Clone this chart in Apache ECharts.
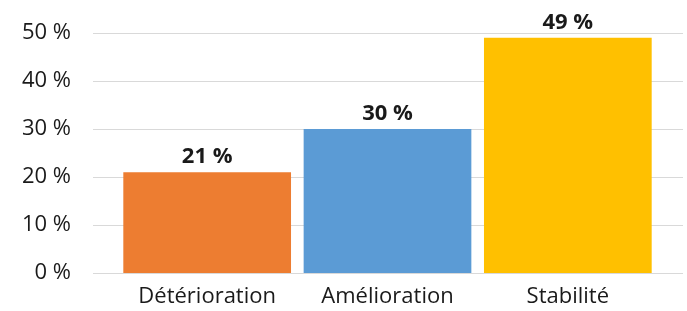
<!DOCTYPE html>
<html>
<head>
<meta charset="utf-8">
<script src="https://cdn.jsdelivr.net/npm/echarts@6/dist/echarts.min.js"></script>
<style>
  html, body { margin: 0; padding: 0; background: #fff; }
  #chart { width: 687px; height: 311px; }
</style>
</head>
<body>
<div id="chart"></div>
<script>
// données
const categories = ['Détérioration', 'Amélioration', 'Stabilité'];
const values = [21, 30, 49];
const barColors = ['#ED7D31', '#5B9BD5', '#FFC000'];
const yTicks = [0, 10, 20, 30, 40, 50];

const font = '"Open Sans", "DejaVu Sans", sans-serif';
const chart = echarts.init(document.getElementById('chart'));

const option = {
  animation: false,
  grid: [
    // grille pour les lignes horizontales (pleine largeur)
    { left: 93, right: 4, top: 33, bottom: 38 },
    // grille pour les barres (plus étroite)
    { left: 117, right: 29, top: 33, bottom: 38 }
  ],
  xAxis: [
    { gridIndex: 0, type: 'category', data: categories, show: false },
    {
      gridIndex: 1,
      type: 'category',
      data: categories,
      axisLine: { show: false },
      axisTick: { show: false },
      axisLabel: {
        color: '#1a1a1a',
        fontSize: 22,
        fontFamily: font,
        margin: 13,
        interval: 0,
        hideOverlap: false
      }
    }
  ],
  yAxis: [
    {
      gridIndex: 0,
      type: 'value',
      min: yTicks[0],
      max: yTicks[yTicks.length - 1],
      interval: 10,
      axisLine: { show: false },
      axisTick: { show: false },
      splitLine: { lineStyle: { color: '#d9d9d9', width: 1 } },
      axisLabel: {
        color: '#1a1a1a',
        fontSize: 22,
        fontFamily: font,
        margin: 22,
        formatter: v => v + ' %'
      }
    },
    {
      gridIndex: 1,
      type: 'value',
      min: 0,
      max: 50,
      interval: 10,
      show: false
    }
  ],
  series: [
    {
      type: 'bar',
      xAxisIndex: 1,
      yAxisIndex: 1,
      barWidth: '93%',
      data: values.map((v, i) => ({ value: v, itemStyle: { color: barColors[i] } })),
      label: {
        show: true,
        position: 'top',
        distance: 4,
        color: '#1a1a1a',
        fontSize: 22,
        fontWeight: 'bold',
        fontFamily: font,
        formatter: p => p.value + ' %'
      }
    }
  ]
};

chart.setOption(option);
</script>
</body>
</html>
